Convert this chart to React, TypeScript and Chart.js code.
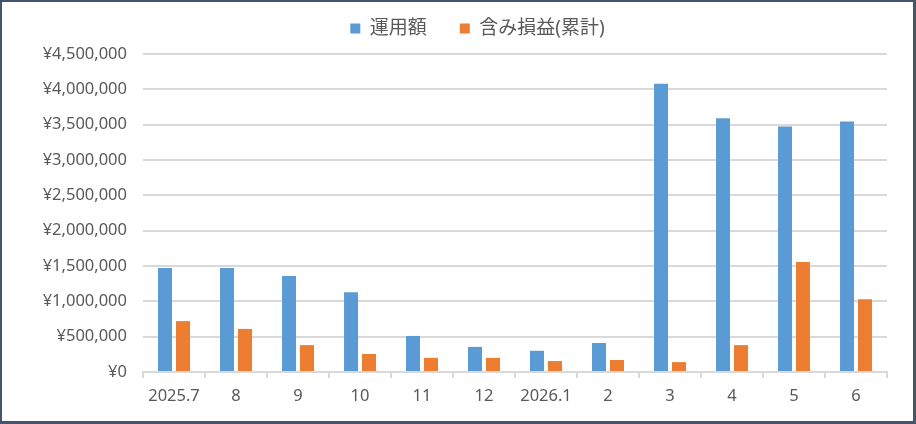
import React, { useEffect, useRef } from "react";
import { Chart, registerables } from "chart.js";

Chart.register(...registerables);

const categories = ["2025.7", "8", "9", "10", "11", "12", "2026.1", "2", "3", "4", "5", "6"];
const investedAmount = [1470000, 1470000, 1360000, 1130000, 510000, 355000, 300000, 410000, 4080000, 3590000, 3475000, 3545000];
const unrealizedGain = [720000, 610000, 380000, 255000, 200000, 200000, 155000, 170000, 140000, 380000, 1555000, 1030000];
const seriesNames = ["運用額", "含み損益(累計)"];
const yMin = 0;
const yMax = 4500000;
const yStep = 500000;

const CANVAS_W = 911;
const CANVAS_H = 419;
const PAD_LEFT = 40;
const PAD_RIGHT = 26;
const PAD_TOP = -16;
const LEGEND_H = 68;
const LEGEND_SHIFT = 13;
const PLOT_LEFT = 141;
const PLOT_BOTTOM = 370;

const FONT = "'Noto Sans', 'Noto Sans CJK JP', sans-serif";
const TEXT = "#595959";
const GRID = "#d9d9d9";

const legendFitPlugin = {
  id: "legendFit",
  beforeUpdate(chart: any) {
    const legend = chart.legend;
    if (!legend || legend.__patched) return;
    const orig = legend.fit;
    legend.fit = function () {
      orig.call(this);
      this.height = LEGEND_H;
    };
    legend.__patched = true;
  },
  afterLayout(chart: any) {
    const legend = chart.legend;
    if (!legend) return;
    legend.left += LEGEND_SHIFT;
    legend.right += LEGEND_SHIFT;
  },
};

export default function App() {
  const ref = useRef<HTMLCanvasElement | null>(null);

  useEffect(() => {
    document.body.style.margin = "0";
    const canvas = ref.current;
    if (!canvas) return;
    const chart = new Chart(canvas, {
      type: "bar",
      data: {
        labels: categories,
        datasets: [
          {
            label: seriesNames[0],
            data: investedAmount,
            backgroundColor: "#5B9BD5",
            barPercentage: 0.778,
            categoryPercentage: 0.58,
          },
          {
            label: seriesNames[1],
            data: unrealizedGain,
            backgroundColor: "#ED7D31",
            barPercentage: 0.778,
            categoryPercentage: 0.58,
          },
        ],
      },
      options: {
        animation: false,
        responsive: false,
        devicePixelRatio: 1,
        layout: { padding: { left: PAD_LEFT, right: PAD_RIGHT, top: PAD_TOP, bottom: 0 } },
        plugins: {
          tooltip: { enabled: false },
          legend: {
            position: "top",
            labels: {
              boxWidth: 10,
              boxHeight: 10,
              padding: 33,
              color: TEXT,
              font: { family: FONT, size: 19 },
            },
          },
        },
        scales: {
          x: {
            grid: {
              drawOnChartArea: false,
              drawTicks: true,
              tickLength: 6,
              color: GRID,
              lineWidth: 2,
              offset: true,
            },
            border: { color: GRID, width: 2 },
            ticks: {
              color: TEXT,
              font: { family: FONT, size: 16.5 },
              padding: 8,
              maxRotation: 0,
              autoSkip: false,
            },
            afterFit(scale: any) {
              scale.height = CANVAS_H - PLOT_BOTTOM;
            },
          },
          y: {
            min: yMin,
            max: yMax,
            ticks: {
              stepSize: yStep,
              color: TEXT,
              font: { family: FONT, size: 16.5 },
              padding: 16,
              callback: (v: any) => "¥" + Number(v).toLocaleString("en-US"),
            },
            grid: { color: GRID, lineWidth: 2, drawTicks: false },
            border: { display: false },
            afterFit(scale: any) {
              scale.width = PLOT_LEFT - PAD_LEFT;
            },
          },
        },
      },
      plugins: [legendFitPlugin],
    });
    return () => chart.destroy();
  }, []);

  return (
    <div
      style={{
        position: "absolute",
        left: 0,
        top: 0,
        width: CANVAS_W,
        height: CANVAS_H,
        borderLeft: "2px solid #44546A",
        borderTop: "2px solid #44546A",
        borderRight: "3px solid #44546A",
        borderBottom: "3px solid #44546A",
        background: "#fff",
      }}
    >
      <canvas ref={ref} width={CANVAS_W} height={CANVAS_H} style={{ display: "block", width: CANVAS_W, height: CANVAS_H }} />
    </div>
  );
}
